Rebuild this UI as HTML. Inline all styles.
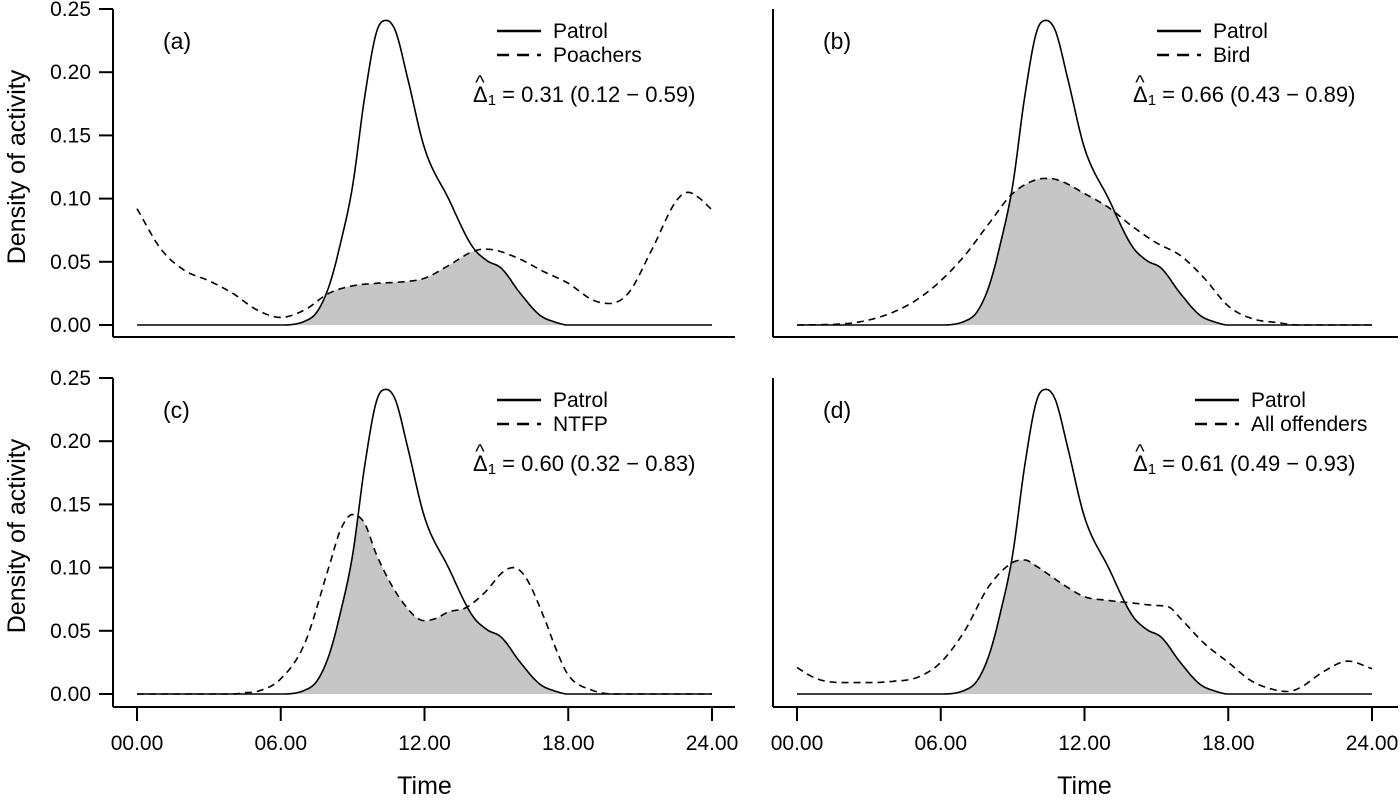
<!DOCTYPE html>
<html><head><meta charset="utf-8"><style>
body{margin:0;background:#fff}
svg{display:block;font-family:"Liberation Sans",Arial,sans-serif}
</style></head><body>
<svg id="chart" width="1400" height="800" viewBox="0 0 1400 800"></svg>
<script>
const tickHours=[0,6,12,18,24];
const tickLabels=["00.00","06.00","12.00","18.00","24.00"];
const yTicks=[0,0.05,0.10,0.15,0.20,0.25];
const yTickLabels=["0.00","0.05","0.10","0.15","0.20","0.25"];
const patrolH=[0,6,7,7.5,8,8.5,9,9.5,10,10.4,10.8,11.3,12,13,14,14.6,15.2,16,16.8,17.5,18,24];
const patrolV=[0,0,0.003,0.01,0.03,0.065,0.11,0.18,0.232,0.241,0.232,0.195,0.14,0.1,0.062,0.051,0.045,0.025,0.008,0.002,0,0];
const poachH=[0,1,2,3,4,5,6,7,8,9,10,11,12,13,14,14.5,15,16,17,18,19,19.7,20.5,21.5,22.5,23,23.5,24];
const poachV=[0.092,0.06,0.043,0.035,0.025,0.012,0.006,0.012,0.025,0.031,0.033,0.034,0.037,0.047,0.058,0.06,0.059,0.052,0.042,0.033,0.02,0.017,0.025,0.06,0.098,0.105,0.1,0.091];
const birdH=[0,2,3,4,5,6,7,8,9,10,10.5,11,12,13,14,15,16,17,18,19,20,21,24];
const birdV=[0,0.001,0.004,0.01,0.02,0.035,0.055,0.08,0.104,0.115,0.116,0.114,0.104,0.093,0.078,0.065,0.055,0.037,0.015,0.005,0.002,0,0];
const ntfpH=[0,4,4.5,5,6,7,8,8.5,9,9.5,10,11,12,12.5,13,13.7,14.5,15.3,15.7,16.2,17,17.5,18,19,20,24];
const ntfpV=[0,0,0.001,0.002,0.012,0.04,0.1,0.13,0.142,0.135,0.11,0.075,0.058,0.06,0.065,0.068,0.08,0.097,0.1,0.093,0.06,0.035,0.015,0.003,0,0];
const allH=[0,0.5,1,2,3,4,5,6,7,8,9,9.5,10,11,12,13,14,15,15.5,16,17,18,19,20,20.5,21,22,23,24];
const allV=[0.021,0.015,0.011,0.009,0.009,0.01,0.013,0.025,0.05,0.085,0.104,0.106,0.101,0.088,0.077,0.074,0.072,0.07,0.069,0.06,0.04,0.025,0.01,0.003,0.002,0.005,0.018,0.026,0.02];
const panelLabels=["(a)","(b)","(c)","(d)"];
const otherNames=["Poachers","Bird","NTFP","All offenders"];
const deltaTexts=[" = 0.31 (0.12 \u2212 0.59)"," = 0.66 (0.43 \u2212 0.89)"," = 0.60 (0.32 \u2212 0.83)"," = 0.61 (0.49 \u2212 0.93)"];

const NS="http://www.w3.org/2000/svg";
const svg=document.getElementById('chart');
function mk(tag,attrs,parent,text){const e=document.createElementNS(NS,tag);for(const k in attrs)e.setAttribute(k,attrs[k]);if(text!==undefined)e.textContent=text;(parent||svg).appendChild(e);return e;}
function mono(H,V){const n=H.length,d=[],m=[];for(let i=0;i<n-1;i++)d.push((V[i+1]-V[i])/(H[i+1]-H[i]));m[0]=d[0];m[n-1]=d[n-2];for(let i=1;i<n-1;i++){m[i]=(d[i-1]*d[i]<=0)?0:(d[i-1]+d[i])/2;}
 for(let i=0;i<n-1;i++){if(d[i]===0){m[i]=0;m[i+1]=0;continue;}const a=m[i]/d[i],b=m[i+1]/d[i];const s=a*a+b*b;if(s>9){const t=3/Math.sqrt(s);m[i]=t*a*d[i];m[i+1]=t*b*d[i];}}
 return h=>{let i=0;while(i<n-2&&h>H[i+1])i++;const dx=H[i+1]-H[i],t=(h-H[i])/dx,t2=t*t,t3=t2*t;return (2*t3-3*t2+1)*V[i]+(t3-2*t2+t)*dx*m[i]+(-2*t3+3*t2)*V[i+1]+(t3-t2)*dx*m[i+1];};}
const patrolF=mono(patrolH,patrolV);
const others=[mono(poachH,poachV),mono(birdH,birdV),mono(ntfpH,ntfpV),mono(allH,allV)];
const panels=[{x0:137,ax:113,y0:325,yb:337,right:735},{x0:797,ax:773,y0:325,yb:337,right:1398},{x0:137,ax:113,y0:694,yb:707,right:735},{x0:797,ax:773,y0:694,yb:707,right:1398}];
const PXH=575/24,PXU=1264;
panels.forEach((p,k)=>{
 const g=mk('g',{},svg);
 
 
 const X=h=>p.x0+h*PXH,Y=v=>p.y0-v*PXU;
 const of=others[k];
 let pts=[];for(let h=0;h<=24.0001;h+=0.05)pts.push([h,Math.min(patrolF(h),of(h))]);
 let d='M'+X(0)+','+Y(0);pts.forEach(q=>d+='L'+X(q[0]).toFixed(1)+','+Y(Math.max(0,q[1])).toFixed(1));d+='L'+X(24)+','+Y(0)+'Z';
 const sh=mk('path',{d:d,fill:'#c6c6c6',stroke:'none'},g);
 
 
 function line(f,dash,name){let s='';for(let h=0;h<=24.0001;h+=0.05)s+=(s?'L':'M')+X(h).toFixed(1)+','+Y(f(h)).toFixed(1);const e=mk('path',{d:s,fill:'none',stroke:'#000','stroke-width':1.6,'stroke-dasharray':dash||'none'},g);}
 line(of,'7,5','other-density-line');
 line(patrolF,null,'patrol-density-line');
 mk('line',{x1:p.ax,y1:p.y0-0.25*PXU,x2:p.ax,y2:p.yb,stroke:'#000','stroke-width':2},g);
 mk('line',{x1:p.ax,y1:p.yb,x2:p.right,y2:p.yb,stroke:'#000','stroke-width':2},g);
 if(k%2===0){yTicks.forEach((v,i)=>{mk('line',{x1:p.ax-14,y1:Y(v),x2:p.ax,y2:Y(v),stroke:'#000','stroke-width':2},g);const t=mk('text',{x:p.ax-22,y:Y(v)+7,'text-anchor':'end','font-size':21},g,yTickLabels[i]);});
  const yt=mk('text',{x:0,y:0,transform:`translate(25,${p.y0-158}) rotate(-90)`,'text-anchor':'middle','font-size':25},g,'Density of activity');}
 if(k>=2){tickHours.forEach((h,i)=>{mk('line',{x1:X(h),y1:p.yb,x2:X(h),y2:p.yb+14,stroke:'#000','stroke-width':2},g);const t=mk('text',{x:X(h),y:p.yb+43,'text-anchor':'middle','font-size':21},g,tickLabels[i]);});
  const xt=mk('text',{x:X(12),y:794,'text-anchor':'middle','font-size':25},g,'Time');}
 const pl=mk('text',{x:p.x0+26,y:p.y0-276,'font-size':23},g,panelLabels[k]);
 const lx=(k===3)?p.x0+398:p.x0+360;
 const lg=mk('g',{},g);
 const ly=p.y0-294;
 mk('line',{x1:lx,y1:ly,x2:lx+44,y2:ly,stroke:'#000','stroke-width':2.5},lg);
 mk('text',{x:lx+56,y:ly+7,'font-size':21},lg,'Patrol');
 mk('line',{x1:lx,y1:ly+24,x2:lx+44,y2:ly+24,stroke:'#000','stroke-width':2.5,'stroke-dasharray':'12,8'},lg);
 mk('text',{x:lx+56,y:ly+31,'font-size':21},lg,otherNames[k]);
 const dx=p.x0+336,dy=p.y0-223;
 const dt=mk('text',{x:dx,y:dy,'font-size':22},g);
 mk('tspan',{},dt,'\u0394');mk('tspan',{'font-size':15,dy:3},dt,'1');mk('tspan',{dy:-3},dt,deltaTexts[k]);
 mk('text',{x:dx+7,y:dy-13,'font-size':20,'text-anchor':'middle'},g,'^');
});
</script>
</body></html>
